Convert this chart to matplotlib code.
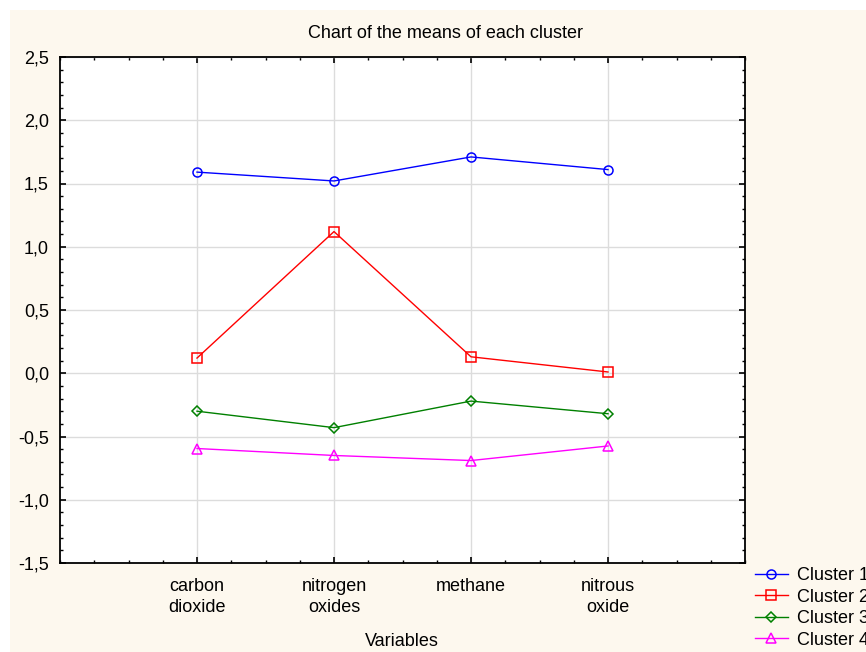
import matplotlib.pyplot as plt
from matplotlib.patches import Rectangle
from matplotlib.ticker import MultipleLocator, FuncFormatter
import numpy as np

plt.rcParams['font.family'] = ['Liberation Sans', 'DejaVu Sans']

# data
variables = ['carbon\ndioxide', 'nitrogen\noxides', 'methane', 'nitrous\noxide']
cluster1 = [1.59, 1.52, 1.71, 1.61]
cluster2 = [0.12, 1.12, 0.13, 0.01]
cluster3 = [-0.30, -0.43, -0.22, -0.32]
cluster4 = [-0.595, -0.65, -0.69, -0.575]
names = ['Cluster 1', 'Cluster 2', 'Cluster 3', 'Cluster 4']

fig = plt.figure(figsize=(8.66, 6.52), dpi=100)
fig.patch.set_facecolor('white')
# cream panel behind the chart
fig.add_artist(Rectangle((10 / 866, 0), 1, 1 - 10 / 652, transform=fig.transFigure,
                         facecolor='#fdf8ee', edgecolor='none', zorder=-10))

ax = fig.add_axes([60 / 866, 89 / 652, 685 / 866, 506 / 652])
ax.set_facecolor('white')

x = np.arange(1, len(variables) + 1)
styles = [('#0000ff', 'o', 6.5), ('#ff0000', 's', 6.5), ('#008000', 'D', 5), ('#ff00ff', '^', 7)]
for vals, name, (c, m, ms) in zip([cluster1, cluster2, cluster3, cluster4], names, styles):
    ax.plot(x, vals, color=c, lw=1, marker=m, ms=ms, mfc='none', mec=c, mew=1.1, label=name)

ax.set_xlim(0, 5)
ax.set_ylim(-1.5, 2.5)
ax.set_xticks(x)
ax.set_xticklabels(variables, linespacing=1.3)
ax.xaxis.set_minor_locator(MultipleLocator(0.25))
ax.yaxis.set_major_locator(MultipleLocator(0.5))
ax.yaxis.set_minor_locator(MultipleLocator(0.1))
ax.yaxis.set_major_formatter(FuncFormatter(lambda v, p: ('%.1f' % v).replace('.', ',')))

ax.grid(True, which='major', color='#dcdcdc', lw=1)
ax.set_axisbelow(True)
ax.tick_params(which='both', direction='in', top=True, right=True, labelsize=13)
ax.tick_params(which='major', length=4, width=1.2)
ax.tick_params(which='minor', length=2.5, width=1)
ax.tick_params(axis='y', pad=8)
ax.tick_params(axis='x', pad=11)
for s in ax.spines.values():
    s.set_linewidth(1.3)

fig.text(445 / 866, 1 - 33 / 652, 'Chart of the means of each cluster', ha='center', va='center', fontsize=13)
fig.text(402 / 866, 1 - 641 / 652, 'Variables', ha='center', va='center', fontsize=13)

ax.legend(loc='upper left', bbox_to_anchor=(748 / 866, 1 - 560 / 652), bbox_transform=fig.transFigure,
          frameon=False, fontsize=13, handlelength=1.8, handletextpad=0.5, labelspacing=0.25,
          borderaxespad=0)

fig.savefig('out.png', dpi=100, facecolor=fig.get_facecolor())
